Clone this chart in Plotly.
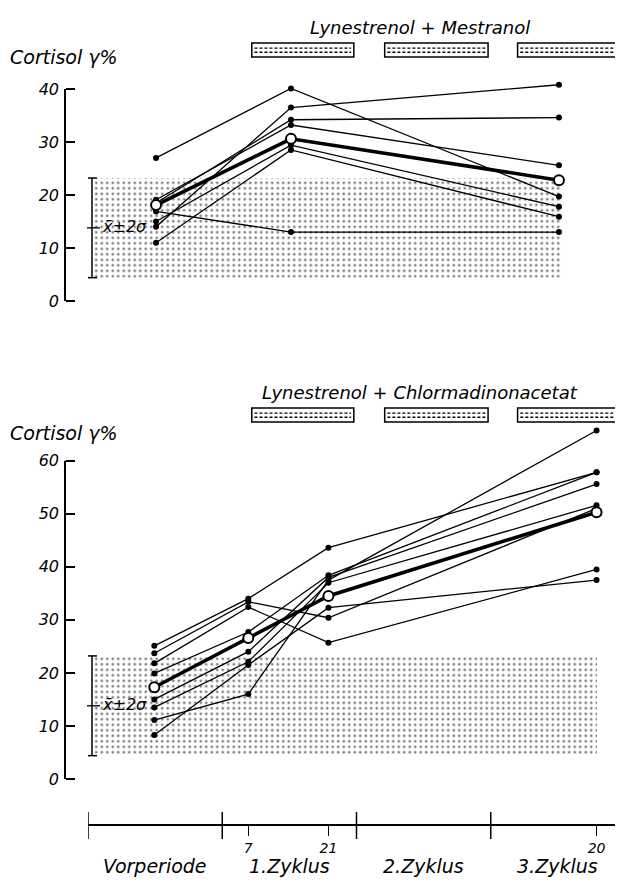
import plotly.graph_objects as go

# ---------------- data ----------------
# time positions in "cycle" units (0 = start of 1. Zyklus, 1 = start of 2. Zyklus ...)
top_time = [-0.493, 0.512, 2.508]
top_series = [
    [27.0, 40.1, 19.7],
    [14.0, 36.5, 40.8],
    [18.5, 34.2, 34.6],
    [19.1, 33.2, 25.6],
    [15.0, 29.4, 17.8],
    [11.0, 28.5, 15.9],
    [16.9, 13.0, 13.0],
]
top_mean = [18.1, 30.6, 22.8]

bottom_time = [-0.506, 0.194, 0.791, 2.788]
bottom_series = [
    [25.1, 34.0, 43.6, 57.8],
    [23.7, 33.4, 30.4, 51.0],
    [21.8, 32.4, 25.7, 39.5],
    [19.9, 27.7, 38.4, 57.8],
    [15.0, 24.0, 38.0, 55.6],
    [13.5, 22.1, 37.0, 51.6],
    [8.3, 21.5, 32.3, 37.5],
    [11.1, 16.0, 37.5, 65.7],
]
bottom_mean = [17.3, 26.6, 34.5, 50.3]

normal_mean = 13.8
normal_2sd = 9.4

top_ticks = [0, 10, 20, 30, 40]
bottom_ticks = [0, 10, 20, 30, 40, 50, 60]
time_tick_labels = ["7", "21", "20"]
period_labels = ["Vorperiode", "1.Zyklus", "2.Zyklus", "3.Zyklus"]
period_centers = [-0.5, 0.5, 1.5, 2.5]
cycle_bounds = [-1, 0, 1, 2]
treatment_cycles = [(0.22, 0.98), (1.21, 1.98), (2.2, 2.97)]
top_title = "Lynestrenol + Mestranol"
bottom_title = "Lynestrenol + Chlormadinonacetat"
ylabel = "Cortisol γ%"

# ---------------- layout helpers ----------------
# the page body has an 8px margin: the figure is placed at (8, 8) in the window
OFF = 8
WIN_W, WIN_H = 623, 880
W, H = WIN_W - OFF, WIN_H - OFF

def PX(p):
    return (p - OFF) / W

def PY(p):
    return 1 - (p - OFF) / H

FONT = "DejaVu Sans, Noto Sans, sans-serif"
X_DOMAIN = [PX(88), 1]
# 88px -> cycle -1 ; 134.25 px per cycle
X_RANGE = [-1, -1 + (WIN_W - 88) / 134.25]

fig = go.Figure()

def add_band(xa, ya, x0, x1):
    lo, hi = normal_mean - normal_2sd, normal_mean + normal_2sd
    fig.add_trace(go.Scatter(
        x=[x0, x1, x1, x0, x0], y=[lo, lo, hi, hi, lo], xaxis=xa, yaxis=ya,
        mode="lines", line=dict(width=0), fill="toself",
        fillcolor="rgba(0,0,0,0)",
        fillpattern=dict(shape=".", size=5.5, solidity=0.2,
                         fgcolor="black", bgcolor="rgba(0,0,0,0)"),
        hoverinfo="skip", showlegend=False))

def add_panel(xa, ya, times, series, mean):
    for s in series:
        fig.add_trace(go.Scatter(
            x=times, y=s, xaxis=xa, yaxis=ya, mode="lines+markers",
            line=dict(color="black", width=1.3),
            marker=dict(color="black", size=6),
            cliponaxis=False, showlegend=False))
    fig.add_trace(go.Scatter(
        x=times, y=mean, xaxis=xa, yaxis=ya, mode="lines+markers",
        line=dict(color="black", width=3.6),
        marker=dict(color="white", size=10, line=dict(color="black", width=2)),
        cliponaxis=False, showlegend=False))

add_band("x", "y", -0.963, 2.531)
add_band("x2", "y2", -0.970, 2.791)
add_panel("x", "y", top_time, top_series, top_mean)
add_panel("x2", "y2", bottom_time, bottom_series, bottom_mean)

# y axis geometry (window px): top 0 at 301px, 5.3px/unit ; bottom 0 at 779px, 5.305px/unit
top_dom_px = (70, 310)
bot_dom_px = (425, 790)
top_range = [(301 - top_dom_px[1]) / 5.3, (301 - top_dom_px[0]) / 5.3]
bot_range = [(779 - bot_dom_px[1]) / 5.305, (779 - bot_dom_px[0]) / 5.305]

yaxis_common = dict(
    anchor="free", position=PX(65), ticks="inside", ticklen=9, tickwidth=1.6,
    tickcolor="black", showgrid=False, zeroline=False, showline=False,
    tickfont=dict(family=FONT, size=16, color="black", style="italic"),
    ticklabelstandoff=6,
)

fig.update_layout(
    width=W, height=H, margin=dict(l=0, r=0, t=0, b=0),
    paper_bgcolor="white", plot_bgcolor="rgba(0,0,0,0)",
    showlegend=False,
    xaxis=dict(domain=X_DOMAIN, range=X_RANGE, anchor="y", visible=False),
    yaxis=dict(domain=[PY(top_dom_px[1]), PY(top_dom_px[0])], range=top_range,
               tickvals=top_ticks, **yaxis_common),
    xaxis2=dict(domain=X_DOMAIN, range=X_RANGE, anchor="free", position=PY(825),
                showline=True, linewidth=2, linecolor="black", ticks="outside",
                ticklen=10, tickwidth=1.4, tickcolor="black",
                tickvals=bottom_time[1:], ticktext=time_tick_labels,
                tickfont=dict(family=FONT, size=14, color="black", style="italic"),
                showgrid=False, zeroline=False),
    yaxis2=dict(domain=[PY(bot_dom_px[1]), PY(bot_dom_px[0])], range=bot_range,
                tickvals=bottom_ticks, **yaxis_common),
)

shapes = []
# y axis lines
shapes.append(dict(type="line", xref="paper", yref="y", x0=PX(65), x1=PX(65),
                   y0=top_ticks[0], y1=top_ticks[-1], line=dict(color="black", width=2)))
shapes.append(dict(type="line", xref="paper", yref="y2", x0=PX(65), x1=PX(65),
                   y0=bottom_ticks[0], y1=bottom_ticks[-1], line=dict(color="black", width=2)))
# timeline major ticks
for c in cycle_bounds:
    shapes.append(dict(type="line", xref="x2", yref="paper", x0=c, x1=c,
                       y0=PY(839), y1=PY(812), line=dict(color="black", width=1.5)))
# normal range brackets
for yref in ("y", "y2"):
    lo, hi = normal_mean - normal_2sd, normal_mean + normal_2sd
    shapes.append(dict(type="line", xref="paper", yref=yref, x0=PX(92), x1=PX(92),
                       y0=lo, y1=hi, line=dict(color="black", width=1.5)))
    for v in (lo, hi):
        shapes.append(dict(type="line", xref="paper", yref=yref, x0=PX(88), x1=PX(97),
                           y0=v, y1=v, line=dict(color="black", width=1.5)))
    shapes.append(dict(type="line", xref="paper", yref=yref, x0=PX(87), x1=PX(100),
                       y0=normal_mean, y1=normal_mean, line=dict(color="black", width=1.3)))
# treatment boxes
for xref, (ytop, ybot) in (("x", (43, 57)), ("x2", (408, 422))):
    for (a, b) in treatment_cycles:
        shapes.append(dict(type="rect", xref=xref, yref="paper", x0=a, x1=b,
                           y0=PY(ybot), y1=PY(ytop), line=dict(color="black", width=1.5),
                           fillcolor="white"))
        for f in (0.36, 0.66):
            yy = ytop + f * (ybot - ytop)
            shapes.append(dict(type="line", xref=xref, yref="paper", x0=a + 0.02, x1=b - 0.02,
                               y0=PY(yy), y1=PY(yy),
                               line=dict(color="black", width=1.3, dash="3px,2px")))
fig.update_layout(shapes=shapes)

ann = []
tf = dict(family=FONT, color="black", style="italic")
for ytext in (57, 433):
    ann.append(dict(text=ylabel, xref="paper", yref="paper", x=PX(8), y=PY(ytext),
                    xanchor="left", yanchor="middle", showarrow=False,
                    font=dict(size=19, **tf)))
ann.append(dict(text=top_title, xref="paper", yref="paper", x=PX(420), y=PY(27),
                xanchor="center", yanchor="middle", showarrow=False, font=dict(size=18, **tf)))
ann.append(dict(text=bottom_title, xref="paper", yref="paper", x=PX(420), y=PY(392),
                xanchor="center", yanchor="middle", showarrow=False, font=dict(size=18, **tf)))
for yref in ("y", "y2"):
    ann.append(dict(text="x̄±2σ", xref="paper", yref=yref, x=PX(100), y=normal_mean + 0.3,
                    xanchor="left", yanchor="middle", showarrow=False,
                    font=dict(size=16, **tf)))
for lab, c in zip(period_labels, period_centers):
    ann.append(dict(text=lab, xref="x2", yref="paper", x=c, y=PY(866),
                    xanchor="center", yanchor="middle", showarrow=False,
                    font=dict(size=19, **tf)))
fig.update_layout(annotations=ann)

fig.write_html("out.html")
